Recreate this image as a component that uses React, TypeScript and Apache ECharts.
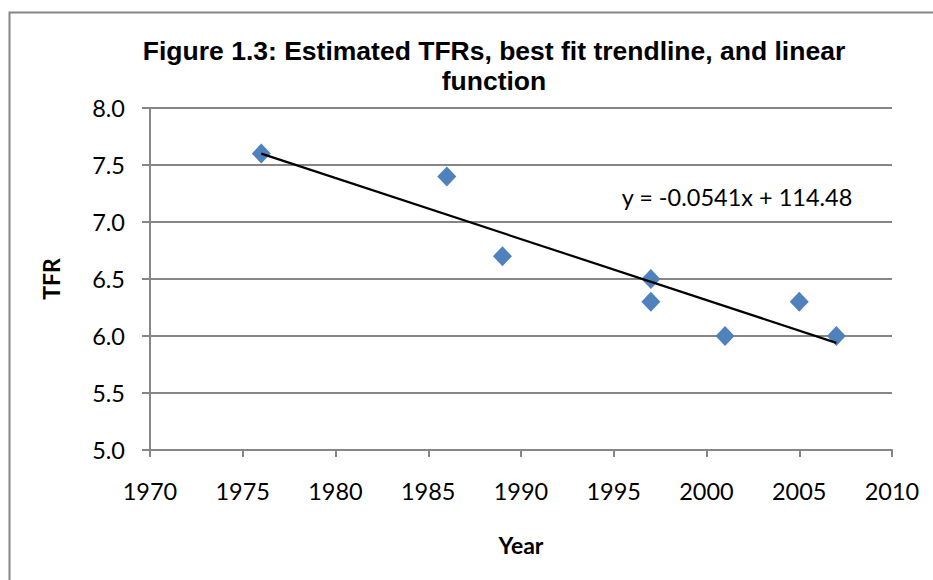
import React, { useEffect, useRef } from "react";
import * as echarts from "echarts";

const years = [1976, 1986, 1989, 1997, 1997, 2001, 2005, 2007];
const tfr = [7.6, 7.4, 6.7, 6.5, 6.3, 6.0, 6.3, 6.0];
const trendYears = [1976, 2007];
const trendValues = [7.6, 5.94];
const equation = "y = -0.0541x + 114.48";
const titleText = "Figure 1.3: Estimated TFRs, best fit trendline, and linear\nfunction";

export default function App() {
  const ref = useRef<HTMLDivElement>(null);
  useEffect(() => {
    if (!ref.current) return;
    const chart = echarts.init(ref.current, null, { renderer: "svg" });
    const grey = "#868686";
    chart.setOption({
      animation: false,
      backgroundColor: "#fff",
      title: {
        text: titleText,
        left: 489,
        top: 31,
        textAlign: "center",
        textStyle: {
          fontFamily: "Liberation Sans",
          fontWeight: "bold",
          fontSize: 26.5,
          lineHeight: 30,
          color: "#000",
        },
      },
      grid: { left: 150, right: 41, top: 108, bottom: 130 },
      xAxis: {
        type: "value",
        min: 1970,
        max: 2010,
        interval: 5,
        name: "Year",
        nameLocation: "middle",
        nameGap: 83,
        nameTextStyle: { fontFamily: "Lato", fontWeight: "bold", fontSize: 23, color: "#000" },
        axisLine: { show: true, lineStyle: { color: grey, width: 2 } },
        axisTick: { show: true, length: 7, lineStyle: { color: grey, width: 2 } },
        axisLabel: {
          fontFamily: "Lato",
          fontSize: 23.5,
          color: "#000",
          margin: 29,
          formatter: (v: number) => String(v),
        },
        splitLine: { show: false },
      },
      yAxis: {
        type: "value",
        min: 5,
        max: 8,
        interval: 0.5,
        name: "TFR",
        nameLocation: "middle",
        nameGap: 88,
        nameRotate: 90,
        nameTextStyle: { fontFamily: "Lato", fontWeight: "bold", fontSize: 23, color: "#000" },
        axisLine: { show: true, lineStyle: { color: grey, width: 2 } },
        axisTick: { show: true, length: 8, lineStyle: { color: grey, width: 2 } },
        axisLabel: {
          fontFamily: "Lato",
          fontSize: 23.5,
          color: "#000",
          margin: 25,
          formatter: (v: number) => v.toFixed(1),
        },
        splitLine: { show: true, lineStyle: { color: grey, width: 2 } },
      },
      series: [
        {
          type: "line",
          data: trendYears.map((y, i) => [y, trendValues[i]]),
          symbol: "none",
          lineStyle: { color: "#000", width: 2.2 },
          z: 3,
        },
        {
          type: "scatter",
          data: years.map((y, i) => [y, tfr[i]]),
          symbol: "diamond",
          symbolSize: [19, 20],
          itemStyle: { color: "#4F81BD", opacity: 1 },
          z: 2,
        },
      ],
      graphic: [
        {
          type: "rect",
          shape: { x: 9.5, y: 12.5, width: 940, height: 600 },
          style: { fill: "none", stroke: grey, lineWidth: 2 },
          silent: true,
        },
        {
          type: "text",
          x: 737,
          y: 197,
          style: {
            text: equation,
            fontFamily: "Lato",
            fontSize: 23.5,
            fill: "#000",
            align: "center",
            verticalAlign: "middle",
          },
        },
      ],
    });
    return () => chart.dispose();
  }, []);
  return <div ref={ref} style={{ width: 933, height: 580, position: "absolute", left: 0, top: 0 }} />;
}
